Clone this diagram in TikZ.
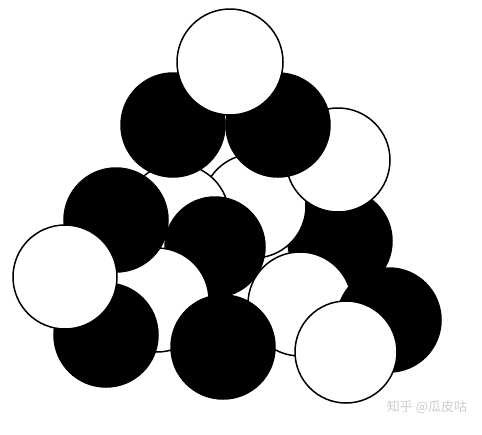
\documentclass[tikz,border=0pt]{standalone}
\usepackage{fontspec}
\newfontfamily\cjk{Noto Sans CJK SC}
\begin{document}
\begin{tikzpicture}[x=1pt,y=-1pt,
	ball/.style={circle,draw=black,line width=1.5pt,inner sep=0pt,minimum size=104pt},
	bball/.style={ball,fill=black},
	wball/.style={ball,fill=white}]
	\useasboundingbox (0,0) rectangle (482,434);
	
	% back row first
	\node[bball] (b5) at(340,241) {};
	\node[wball] (w4) at(254,206) {};
	\node[wball] (w3) at(177,216) {};
	\node[wball] (w2) at(338,160) {};
	\node[bball] (b1) at(173,125) {};
	\node[bball] (b2) at(278,125) {};
	\node[wball,minimum size=106pt] (w1) at(230,62) {};
	\node[bball,minimum size=100pt] (b4) at(215,247) {};
	\node[wball] (w6) at(300,304) {};
	\node[wball] (w8) at(157,300) {};
	\node[bball] (b3) at(116,220) {};
	\node[bball] (b8) at(106,335) {};
	\node[wball] (w5) at(65,277) {};
	\node[bball] (b7) at(223,347) {};
	\node[bball] (b6) at(389,320) {};
	\node[wball,minimum size=102pt] (w7) at(346,352) {};
	
	\node[text=black!20,font=\cjk\fontsize{13}{13}\selectfont] (mark) at(427,407) {知乎 @瓜皮咕};
\end{tikzpicture}
\end{document}
